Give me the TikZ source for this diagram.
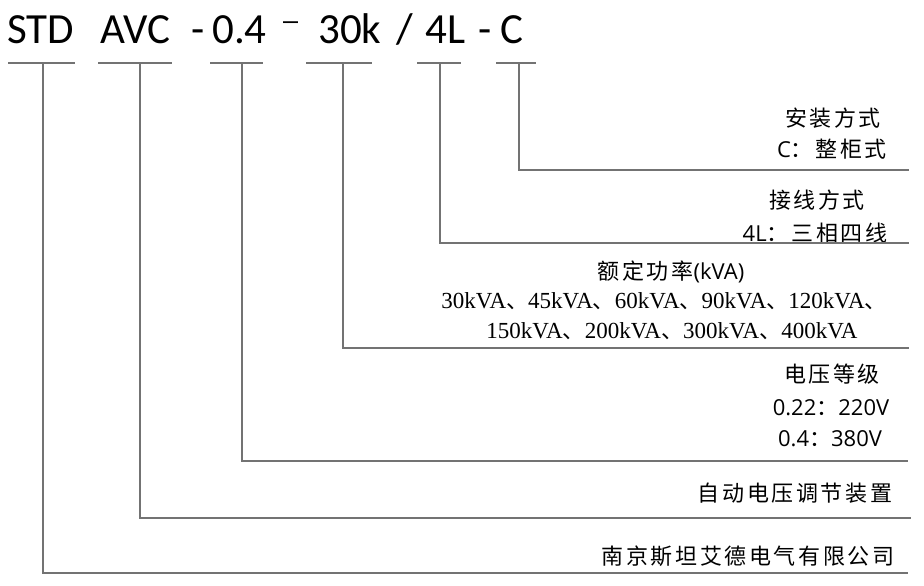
\documentclass[tikz,border=0pt]{standalone}
\usepackage{fontspec}
\setmainfont{Carlito}
\newfontfamily\cjk[LetterSpace=12]{Noto Sans CJK SC}
\newfontfamily\lat{Open Sans}
\newfontfamily\ser{Liberation Serif}
\newfontfamily\dashfont{Liberation Sans}
\newcommand{\latsz}{\fontsize{22}{26}\selectfont\lat}
\newcommand{\cjksz}{\fontsize{22}{26}\selectfont\cjk}
\newcommand{\dun}{{\cjksz 、}}
\begin{document}
\begin{tikzpicture}[x=1pt,y=-1pt,
  conn/.style={draw=black!55,line width=1.3pt},
  titletxt/.style={anchor=base west,inner sep=0pt,font=\fontsize{43}{48}\selectfont},
  cjktxt/.style={inner sep=0pt,font=\cjksz},
  mixtxt/.style={inner sep=0pt},
  sertxt/.style={inner sep=0pt,font=\fontsize{23}{27}\selectfont\ser}]
\useasboundingbox (0,0) rectangle (924,586);
% title tokens
\node[titletxt] (tSTD) at (7,44) {STD};
\node[titletxt] (tAVC) at (100,44) {AVC};
\node[titletxt] (tH1) at (191,44) {-};
\node[titletxt] (t04) at (212,44) {0.4};
\node[titletxt,font=\fontsize{27}{30}\selectfont\dashfont] (tH2) at (283,30) {–};
\node[titletxt] (t30k) at (318,44) {30k};
\node[titletxt] (tSl) at (396,44) {/};
\node[titletxt] (t4L) at (425,44) {4L};
\node[titletxt] (tH3) at (478,44) {-};
\node[titletxt] (tC) at (500,44) {C};
% labels
\node[cjktxt] (azfs) at (833,118) {安装方式};
\node[mixtxt] (czgs) at (832,149) {\latsz C\cjksz ：整柜式};
\node[cjktxt] (jxfs) at (817,200) {接线方式};
\node[mixtxt] (sxsx) at (815,233) {\latsz 4L\cjksz ：三相四线};
\node[mixtxt] (edgl) at (671,272) {\cjksz 额定功率\latsz (kVA)};
\node[sertxt] (gl1) at (664,301) {30kVA\dun 45kVA\dun 60kVA\dun 90kVA\dun 120kVA\dun};
\node[sertxt] (gl2) at (672,331) {150kVA\dun 200kVA\dun 300kVA\dun 400kVA};
\node[cjktxt] (dydj) at (832,374) {电压等级};
\node[mixtxt] (v022) at (831,408) {\latsz 0.22\cjksz ：\latsz 220V};
\node[mixtxt] (v04) at (830,439) {\latsz 0.4\cjksz ：\latsz 380V};
\node[cjktxt] (zdty) at (795,493) {自动电压调节装置};
\node[cjktxt] (njst) at (748,556) {南京斯坦艾德电气有限公司};
% top bars
\coordinate (sL) at (8,63);   \coordinate (sR) at (75,63);
\coordinate (aL) at (98,63);  \coordinate (aR) at (172,63);
\coordinate (vL) at (210,63); \coordinate (vR) at (263,63);
\coordinate (pL) at (306,63); \coordinate (pR) at (372,63);
\coordinate (lL) at (417,63); \coordinate (lR) at (461,63);
\coordinate (mL) at (496,63); \coordinate (mR) at (536,63);
\draw[conn] (sL) -- (sR);
\draw[conn] (aL) -- (aR);
\draw[conn] (vL) -- (vR);
\draw[conn] (pL) -- (pR);
\draw[conn] (lL) -- (lR);
\draw[conn] (mL) -- (mR);
% leaders
\coordinate (sT) at (43,63);  \coordinate (sB) at (43,573);  \coordinate (sE) at (908,573);
\coordinate (aT) at (140,63); \coordinate (aB) at (140,518); \coordinate (aE) at (911,518);
\coordinate (vT) at (242,63); \coordinate (vB) at (242,461); \coordinate (vE) at (908,461);
\coordinate (pT) at (343,63); \coordinate (pB) at (343,348); \coordinate (pE) at (909,348);
\coordinate (lT) at (440,63); \coordinate (lB) at (440,243); \coordinate (lE) at (909,243);
\coordinate (mT) at (519,63); \coordinate (mB) at (519,170); \coordinate (mE) at (909,170);
\draw[conn] (sT) -- (sB) -- (sE);
\draw[conn] (aT) -- (aB) -- (aE);
\draw[conn] (vT) -- (vB) -- (vE);
\draw[conn] (pT) -- (pB) -- (pE);
\draw[conn] (lT) -- (lB) -- (lE);
\draw[conn] (mT) -- (mB) -- (mE);
\end{tikzpicture}
\end{document}
